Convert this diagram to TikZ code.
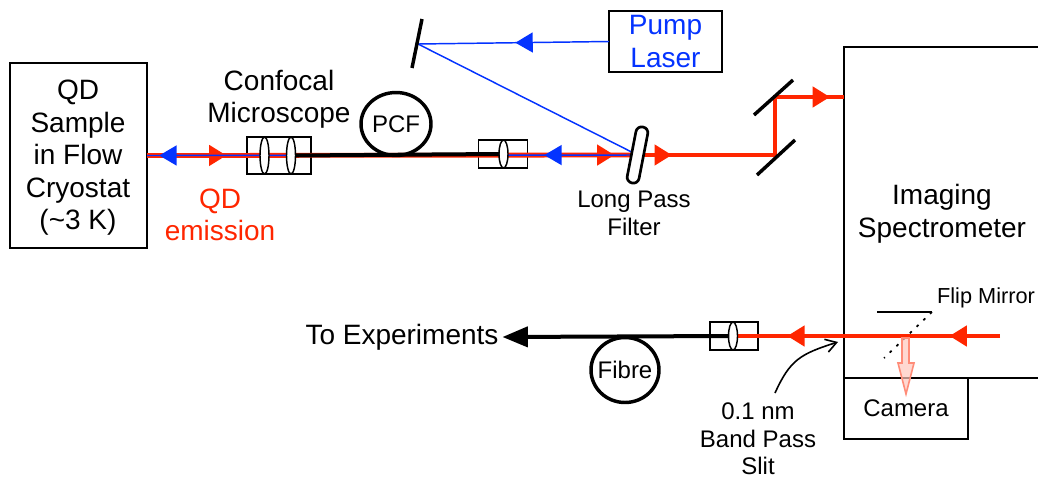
\documentclass[tikz,border=0pt]{standalone}
\usepackage{fontspec}
\setmainfont{Liberation Sans}
\usetikzlibrary{shapes.geometric, arrows.meta, decorations.markings, positioning}
\definecolor{beamred}{RGB}{255,38,0}
\definecolor{beamblue}{RGB}{4,51,255}
\definecolor{flipfill}{RGB}{255,200,190}
\definecolor{flipedge}{RGB}{255,140,120}
\newcommand{\px}{0.75pt}

\begin{document}
\begin{tikzpicture}[
    x=0.75pt, y=-0.75pt,
    box/.style={rectangle, draw=black, line width=1.5pt, inner sep=0pt, outer sep=0pt, align=center},
    collim/.style={rectangle, draw=black, line width=1.3pt, inner sep=0pt, outer sep=0pt},
    lens/.style={ellipse, draw=black, fill=white, line width=1.1pt, inner sep=0pt, outer sep=0pt, minimum width=9*\px},
    loopfibre/.style={ellipse, draw=black, line width=2.6pt, inner sep=0pt, outer sep=0pt},
    bigtext/.style={align=center, inner sep=0pt, font=\fontsize{21}{24.4}\selectfont},
    smalltext/.style={align=center, inner sep=0pt, font=\fontsize{18}{21}\selectfont},
    mirror/.style={draw=black, line width=2.6pt},
    redbeam/.style={draw=beamred, line width=3.6pt},
    bluebeam/.style={draw=beamblue, line width=1.1pt},
    fibre/.style={draw=black, line width=3pt},
    tip/.style={postaction={decorate, decoration={markings, mark=at position #1 with {\arrow{Triangle[length=13pt, width=15pt]}}}}}
]
\useasboundingbox (0,0) rectangle (1038,479);

% Nodes
\node[box, minimum width=137*\px, minimum height=185*\px] (cryostat) at (78.5,155.5) {};
\node[box, minimum width=113*\px, minimum height=61*\px] (pump) at (665.5,41.5) {};
\node[collim, minimum width=64*\px, minimum height=37*\px] (objbox) at (279,155.5) {};
\node[collim, minimum width=49*\px, minimum height=28*\px] (collbox) at (503,154) {};
\node[collim, minimum width=48*\px, minimum height=28*\px] (exitbox) at (734,336) {};
\node[box, minimum width=124*\px, minimum height=61*\px] (camera) at (906,408.5) {};

\node[bigtext] (cryolabel) at (78,158) {QD\\Sample\\in Flow\\Cryostat\\(\textasciitilde 3 K)};
\node[bigtext, text=beamblue] (pumplabel) at (pump.center) {Pump\\Laser};
\node[bigtext, above=6pt of objbox] (confocal) {Confocal\\Microscope};
\node[bigtext, text=beamred] (qdlabel) at (220,215) {QD\\emission};
\node[bigtext] (speclabel) at (942,214) {Imaging\\Spectrometer};
\node[bigtext, outer xsep=3pt] (toexp) at (402,337) {To Experiments};
\node[smalltext] (lplabel) at (634,213) {Long Pass\\Filter};
\node[smalltext, font=\fontsize{18}{20.6}\selectfont] (slitlabel) at (758,439) {0.1 nm\\Band Pass\\Slit};
\node[smalltext] (cameralabel) at (camera.center) {Camera};
\node[align=center, inner sep=0pt, font=\fontsize{16.3}{19}\selectfont] (fliplabel) at (986,298) {Flip Mirror};

% Points on the beams
\coordinate (uppertop) at (422,19);
\coordinate (upperbot) at (412,68);
\coordinate (upperhit) at (418,44);
\coordinate (filtpos) at (637.5,155);
\coordinate (foldlow) at (775,155);
\coordinate (foldhigh) at (775,97);
\coordinate (mirAa) at (754,115);
\coordinate (mirAb) at (793,80);
\coordinate (mirBa) at (757,175);
\coordinate (mirBb) at (795,140);
\coordinate (specne) at (1038,47);
\coordinate (specnw) at (844,47);
\coordinate (specin) at (844,97);
\coordinate (specsw) at (844,378);
\coordinate (specse) at (1038,378);
\coordinate (specright) at (1000,336);
\coordinate (flipa) at (877,312);
\coordinate (flipb) at (932,312);
\coordinate (flipc) at (884,358);
\coordinate (slitfoot) at (775,393);
\coordinate (slithead) at (838,342);

% Spectrometer
\draw[line width=1.5pt] (specne) -- (specnw) -- (specsw) -- (specse);

% Beams
\draw[redbeam, tip=0.162, tip=0.953] (cryostat.east) -- (filtpos);
\draw[bluebeam, tip=0.19, tip=0.975] (filtpos) -- (cryostat.east);
\draw[bluebeam, tip=0.49] (pump.west) -- (upperhit);
\draw[bluebeam] (upperhit) -- (filtpos);
\draw[redbeam, tip=0.13, tip=0.947] (filtpos) -- (foldlow) -- (foldhigh) -- (specin);
\draw[redbeam, tip=0.19, tip=0.80] (specright) -- (exitbox.center);

% Optics
\node[lens, minimum height=37*\px] (lensa) at (264.5,155.5) {};
\node[lens, minimum height=37*\px] (lensb) at (291,155.5) {};
\node[lens, minimum height=28*\px] (lensc) at (503.5,154) {};
\node[lens, minimum height=28*\px] (lensd) at (733,336) {};
\node[loopfibre, minimum width=70*\px, minimum height=63*\px] (pcf) at (396,124) {};
\node[smalltext] (pcflabel) at (pcf.center) {PCF};
\node[loopfibre, minimum width=68*\px, minimum height=65*\px] (fibreloop) at (625,370) {};
\node[smalltext] (fibrelabel) at (fibreloop.center) {Fibre};
\node[rectangle, draw=black, fill=white, line width=2pt, rounded corners=4.3pt, rotate=79, inner sep=0pt, minimum width=57*\px, minimum height=12*\px] (filter) at (filtpos) {};

% Fibres
\draw[fibre] (lensb.east) -- (lensc.west);
\draw[fibre, -{Triangle[length=19pt, width=15pt]}] (lensd.west) -- (toexp.east);

% Mirrors
\draw[mirror] (uppertop) -- (upperbot);
\draw[mirror] (mirAa) -- (mirAb);
\draw[mirror] (mirBa) -- (mirBb);
\draw[line width=1.3pt] (flipa) -- (flipb);
\draw[line width=1.3pt, dash pattern=on 2pt off 5pt] (flipb) -- (flipc);

% Flipped beam
\draw[draw=flipedge, fill=flipfill, fill opacity=0.7, line width=1.2pt] (902,338) -- (909,338) -- (909,363) -- (914,363) -- (906,394) -- (898,363) -- (902,363) -- cycle;

% Slit pointer
\draw[line width=1.2pt, -{Straight Barb[length=8pt, width=10pt]}] (slitfoot) .. controls (790,360) and (800,354) .. (slithead);
\end{tikzpicture}
\end{document}
